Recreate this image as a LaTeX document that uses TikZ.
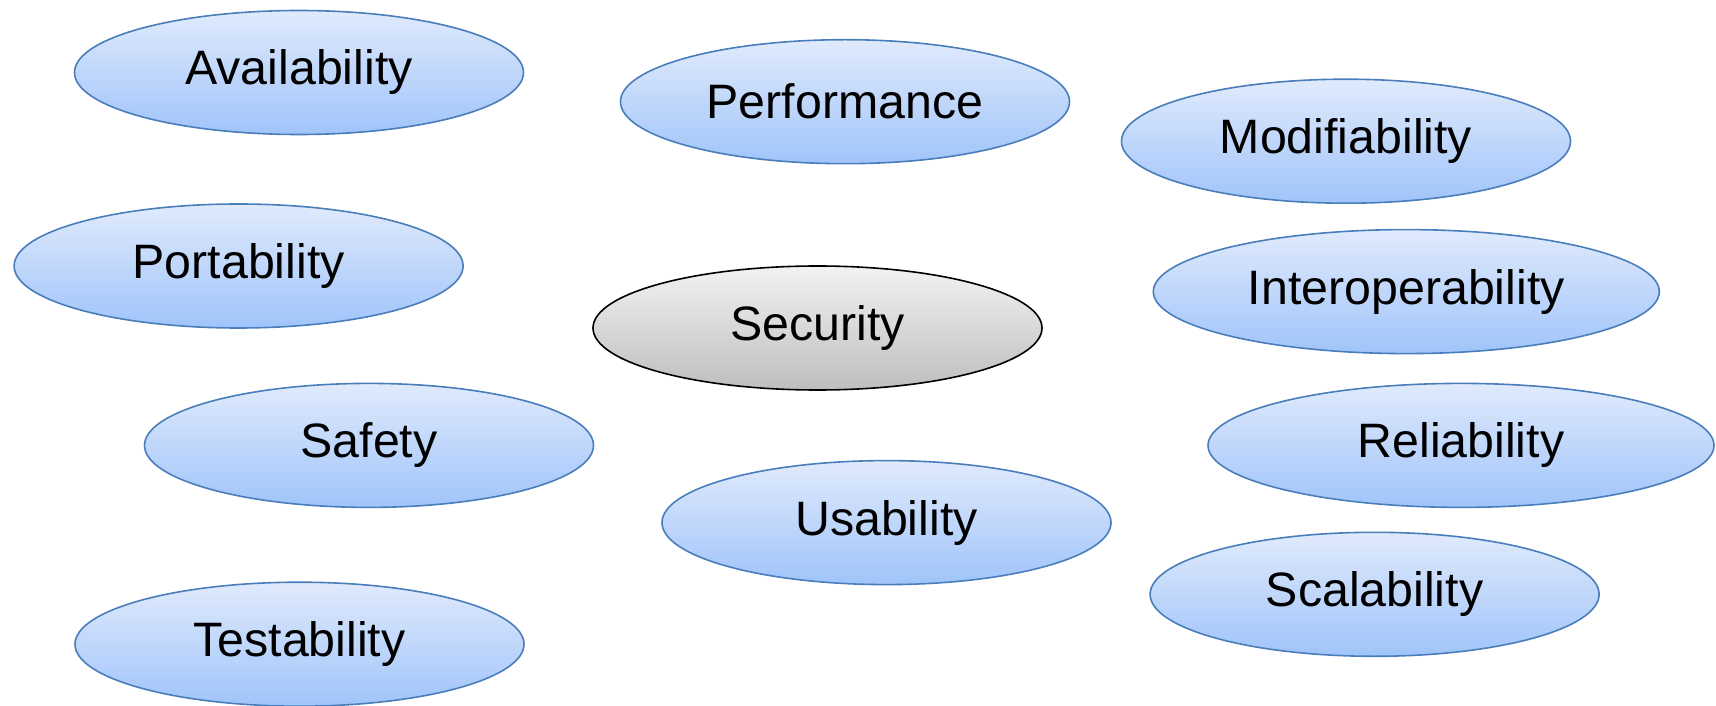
\documentclass[tikz,border=0pt]{standalone}
\usepackage{fontspec}
\setmainfont{Liberation Sans}
\usetikzlibrary{shapes.geometric}
\definecolor{qaTop}{RGB}{224,234,252}
\definecolor{qaBottom}{RGB}{160,196,250}
\definecolor{qaEdge}{RGB}{74,126,187}
\definecolor{secTop}{RGB}{242,242,242}
\definecolor{secBottom}{RGB}{190,190,190}
\tikzset{
  quality/.style={ellipse, draw=qaEdge, line width=1.6pt, inner sep=0pt,
    minimum width=449pt, minimum height=124pt,
    top color=qaTop, bottom color=qaBottom,
    font=\fontsize{48.3}{52}\selectfont, text=black},
  wide/.style={minimum width=506pt},
  central/.style={quality, draw=black, top color=secTop, bottom color=secBottom}
}
\begin{document}
\begin{tikzpicture}[x=1pt,y=1pt]
  \useasboundingbox (0,0) rectangle (1716,705);
  \node[quality] (avail) at (299,632.5) {Availability};
  \node[quality] (perf) at (845,603.3) {Performance};
  \node[quality] (modif) at (1346,563.8) {Modifiability};
  \node[quality] (port) at (238.6,439) {Portability};
  \node[quality,wide] (interop) at (1406.3,413.4) {Interoperability};
  \node[central] (sec) at (817.5,377) {Security};
  \node[quality] (safety) at (369,259.6) {Safety};
  \node[quality,wide] (rel) at (1461,259.6) {Reliability};
  \node[quality] (usab) at (886.5,182.4) {Usability};
  \node[quality] (scal) at (1374.6,110.7) {Scalability};
  \node[quality] (test) at (299.5,60.8) {Testability};
\end{tikzpicture}
\end{document}
